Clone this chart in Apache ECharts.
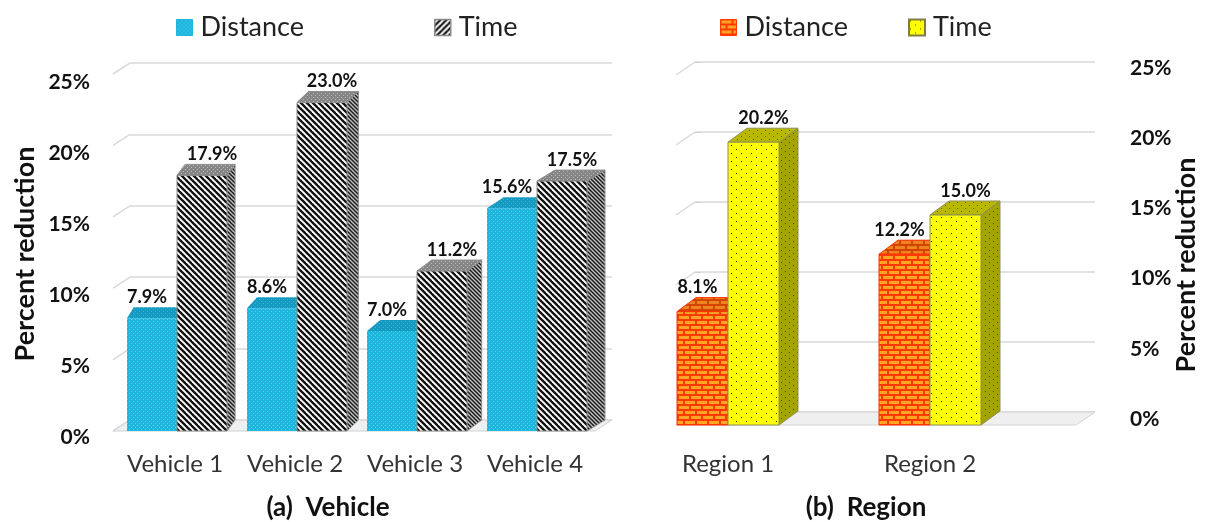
<!DOCTYPE html>
<html>
<head>
<meta charset="utf-8">
<script src="https://cdn.jsdelivr.net/npm/echarts@6/dist/echarts.min.js"></script>
<style>
  html, body { margin: 0; padding: 0; background: #fff; }
  #chart { width: 1208px; height: 522px; }
</style>
</head>
<body>
<div id="chart"></div>
<script>
// ---- data ----
const vehicles = ['Vehicle 1', 'Vehicle 2', 'Vehicle 3', 'Vehicle 4'];
const vehicleDistance = [7.9, 8.6, 7.0, 15.6];
const vehicleTime = [17.9, 23.0, 11.2, 17.5];

const regions = ['Region 1', 'Region 2'];
const regionDistance = [8.1, 12.2];
const regionTime = [20.2, 15.0];

const percentTicks = [0, 5, 10, 15, 20, 25];

// ---- fill patterns ----
function tile(w, h, draw) {
  const c = document.createElement('canvas');
  c.width = w; c.height = h;
  draw(c.getContext('2d'), w, h);
  return { image: c, repeat: 'repeat' };
}
function dotted(w, h, bg, dot, size) {
  return tile(w, h, (g) => {
    g.fillStyle = bg; g.fillRect(0, 0, w, h);
    g.fillStyle = dot;
    g.fillRect(1, 1, size, size);
    g.fillRect(w / 2 + 1, h / 2 + 1, size, size);
  });
}
function stripes(n, lw, bg, fg, down) {
  return tile(n, n, (g) => {
    g.fillStyle = bg; g.fillRect(0, 0, n, n);
    g.strokeStyle = fg; g.lineWidth = lw;
    for (let k = -1; k <= 1; k++) {
      g.beginPath();
      if (down) { g.moveTo(k * n - 1, -1); g.lineTo(k * n + n + 1, n + 1); }
      else { g.moveTo(k * n - 1, n + 1); g.lineTo(k * n + n + 1, -1); }
      g.stroke();
    }
  });
}
function bricks(mortar, brick) {
  return tile(12, 10, (g) => {
    g.fillStyle = mortar; g.fillRect(0, 0, 12, 10);
    g.fillStyle = brick;
    g.fillRect(1, 1, 10, 3);
    g.fillRect(-5, 6, 10, 3);
    g.fillRect(7, 6, 10, 3);
  });
}

const fills = {
  cyanFront: dotted(4, 4, '#1DB6DE', '#5ECDEB', 1),
  cyanTop: dotted(4, 4, '#1499C0', '#3CB5D8', 1),
  stripeFront: stripes(6, 2.3, '#ffffff', '#111111', true),
  stripeSide: stripes(4, 1.5, '#c4c4c4', '#1a1a1a', true),
  stripeTop: dotted(4, 4, '#858585', '#bcbcbc', 1),
  stripeLegend: stripes(6, 2.2, '#ffffff', '#111111', false),
  brickFront: bricks('#FF3A00', '#FFA424'),
  brickTop: bricks('#D24400', '#EE8420'),
  yellowFront: dotted(10, 8, '#FFFF00', '#3a3a00', 1),
  oliveTop: dotted(8, 6, '#B8B800', '#5e5e00', 1),
  oliveSide: dotted(8, 6, '#A4A400', '#4e4e00', 1)
};

// ---- 3D bar drawing ----
function barRenderer(o) {
  return function (params, api) {
    const cat = api.value(0);
    const val = api.value(1);
    const top = api.coord([cat, val]);
    const base = api.coord([cat, 0]);
    const band = api.size([1, 0])[0];
    const w = band * o.widthFrac;
    const x0 = top[0] + o.shift + (o.leftOfCenter ? -w : 0);
    const x1 = x0 + w;
    const dx = o.dx0 + o.dxSlope * (x1 - params.coordSys.x);
    const dy = o.dy;
    const yT = top[1], yB = base[1];
    const edge = o.stroke ? { stroke: o.stroke, lineWidth: 1 } : { lineWidth: 0 };
    return {
      type: 'group',
      children: [
        { type: 'polygon',
          shape: { points: [[x1, yB], [x1, yT], [x1 + dx, yT + dy], [x1 + dx, yB + dy]] },
          style: Object.assign({ fill: o.side }, edge) },
        { type: 'polygon',
          shape: { points: [[x0, yT], [x1, yT], [x1 + dx, yT + dy], [x0 + dx, yT + dy]] },
          style: Object.assign({ fill: o.top }, edge) },
        { type: 'rect',
          shape: { x: x0, y: yT, width: w, height: yB - yT },
          style: Object.assign({ fill: o.front }, edge) },
        { type: 'text',
          style: {
            text: val.toFixed(1) + '%',
            x: x0 + w / 2 + o.labelShift, y: yT + dy - 10,
            align: 'center', verticalAlign: 'middle',
            font: 'bold 18px Lato', fill: '#111'
          } }
      ]
    };
  };
}

// back wall: slanted gridline stubs and the floor
function wallRenderer(ddx, ddy) {
  return function (params, api) {
    const p = api.coord([0, api.value(1)]);
    return { type: 'line',
      shape: { x1: p[0] - ddx, y1: p[1] + ddy, x2: p[0], y2: p[1] },
      style: { stroke: '#D9D9D9', lineWidth: 1.5 } };
  };
}
function floorRenderer(ddx, ddy) {
  return function (params, api) {
    const a = api.coord([0, 0]);
    const b = api.coord([1, 0]);
    return { type: 'polygon',
      shape: { points: [[a[0], a[1]], [b[0], b[1]], [b[0] - ddx, b[1] + ddy], [a[0] - ddx, a[1] + ddy]] },
      style: { fill: '#EFEFEF', stroke: '#D2D2D2', lineWidth: 1 } };
  };
}

const pairData = (vals) => vals.map((v, i) => [i, v]);
const tickData = percentTicks.map((v) => [0, v]);
const tMin = percentTicks[0];
const tMax = percentTicks[percentTicks.length - 1];
const tStep = percentTicks[1] - percentTicks[0];

const font = 'Lato';

const leftBars = { widthFrac: 50 / 120, shift: 2, dx0: 5, dxSlope: 0.0275, dy: -11 };
const rightBars = { widthFrac: 51 / 202, shift: 0, dx0: 19, dxSlope: 0, dy: -14 };

const tickLabel = { formatter: '{value}%', fontFamily: font, fontWeight: 'bold', fontSize: 21, color: '#111' };
const legendText = { fontFamily: font, fontSize: 27, color: '#222', padding: [0, 0, 0, 3] };
const categoryLabel = { fontFamily: font, fontSize: 24, color: '#333', interval: 0, hideOverlap: false };

const option = {
  animation: false,
  backgroundColor: '#ffffff',
  legend: [
    {
      left: 176, top: 14, padding: 0, itemWidth: 16, itemHeight: 16, itemGap: 130,
      selectedMode: false, textStyle: legendText,
      data: [
        { name: 'Distance', icon: 'rect', itemStyle: { color: fills.cyanFront, borderColor: '#1DB6DE', borderWidth: 1 } },
        { name: 'Time', icon: 'rect', itemStyle: { color: fills.stripeLegend, borderColor: '#8a8a8a', borderWidth: 1.5 } }
      ]
    },
    {
      left: 720, top: 14, padding: 0, itemWidth: 16, itemHeight: 16, itemGap: 60,
      selectedMode: false, textStyle: legendText,
      data: [
        { name: 'Distance', icon: 'rect', itemStyle: { color: fills.brickFront, borderColor: '#FF3A00', borderWidth: 1 } },
        { name: 'Time', icon: 'rect', itemStyle: { color: fills.yellowFront, borderColor: '#7d7d45', borderWidth: 2 } }
      ]
    }
  ],
  grid: [
    { left: 115, top: 74, width: 480, height: 357 },   // vehicle bars (front plane)
    { left: 130, top: 63, width: 482, height: 357 },   // vehicle back wall
    { left: 627, top: 75, width: 404, height: 350 },   // region bars (front plane)
    { left: 695, top: 62, width: 400, height: 350 },   // region back wall
    { left: 115, top: 82, width: 480, height: 355 },   // vehicle value labels
    { left: 695, top: 68, width: 400, height: 351 }    // region value labels
  ],
  xAxis: [
    { gridIndex: 0, type: 'category', data: vehicles,
      axisLine: { show: false }, axisTick: { show: false },
      axisLabel: Object.assign({ margin: 21 }, categoryLabel) },
    { gridIndex: 1, type: 'value', min: 0, max: 1, show: false },
    { gridIndex: 2, type: 'category', data: regions,
      axisLine: { show: false }, axisTick: { show: false },
      axisLabel: Object.assign({ margin: 27 }, categoryLabel) },
    { gridIndex: 3, type: 'value', min: 0, max: 1, show: false },
    { gridIndex: 4, type: 'value', min: 0, max: 1, show: false },
    { gridIndex: 5, type: 'value', min: 0, max: 1, show: false }
  ],
  yAxis: [
    { gridIndex: 0, type: 'value', min: tMin, max: tMax, interval: tStep, show: false },
    { gridIndex: 1, type: 'value', min: tMin, max: tMax, interval: tStep,
      axisLine: { show: false }, axisTick: { show: false }, axisLabel: { show: false },
      splitLine: { lineStyle: { color: '#D9D9D9', width: 1.5 } } },
    { gridIndex: 2, type: 'value', min: tMin, max: tMax, interval: tStep, show: false },
    { gridIndex: 3, type: 'value', position: 'right', min: tMin, max: tMax, interval: tStep,
      axisLine: { show: false }, axisLabel: { show: false },
      axisTick: { show: true, length: 6, lineStyle: { color: '#CFCFCF' } },
      splitLine: { lineStyle: { color: '#D9D9D9', width: 1.5 } } },
    { gridIndex: 4, type: 'value', min: tMin, max: tMax, interval: tStep,
      axisLine: { show: false }, axisTick: { show: false }, splitLine: { show: false },
      axisLabel: Object.assign({ margin: 25 }, tickLabel) },
    { gridIndex: 5, type: 'value', position: 'right', min: tMin, max: tMax, interval: tStep,
      axisLine: { show: false }, axisTick: { show: false }, splitLine: { show: false },
      axisLabel: Object.assign({ margin: 35 }, tickLabel) }
  ],
  series: [
    { type: 'custom', name: 'walls-a', xAxisIndex: 1, yAxisIndex: 1, z: 1, silent: true,
      data: tickData, renderItem: wallRenderer(17, 11) },
    { type: 'custom', name: 'floor-a', xAxisIndex: 1, yAxisIndex: 1, z: 1, silent: true,
      data: [[0, 0]], renderItem: floorRenderer(17, 11) },
    { type: 'custom', name: 'walls-b', xAxisIndex: 3, yAxisIndex: 3, z: 1, silent: true,
      data: tickData, renderItem: wallRenderer(19, 13) },
    { type: 'custom', name: 'floor-b', xAxisIndex: 3, yAxisIndex: 3, z: 1, silent: true,
      data: [[0, 0]], renderItem: floorRenderer(19, 13) },

    { type: 'custom', name: 'Distance', xAxisIndex: 0, yAxisIndex: 0, z: 3,
      encode: { x: 0, y: 1 }, data: pairData(vehicleDistance),
      renderItem: barRenderer(Object.assign({}, leftBars, {
        leftOfCenter: true, labelShift: -5,
        front: fills.cyanFront, top: fills.cyanTop, side: '#1487AA' })) },
    { type: 'custom', name: 'Time', xAxisIndex: 0, yAxisIndex: 0, z: 3,
      encode: { x: 0, y: 1 }, data: pairData(vehicleTime),
      renderItem: barRenderer(Object.assign({}, leftBars, {
        leftOfCenter: false, labelShift: 10, stroke: '#8c8c8c',
        front: fills.stripeFront, top: fills.stripeTop, side: fills.stripeSide })) },

    { type: 'custom', name: 'Distance', xAxisIndex: 2, yAxisIndex: 2, z: 3,
      encode: { x: 0, y: 1 }, data: pairData(regionDistance),
      renderItem: barRenderer(Object.assign({}, rightBars, {
        leftOfCenter: true, labelShift: -5, stroke: '#FF3000',
        front: fills.brickFront, top: fills.brickTop, side: fills.brickTop })) },
    { type: 'custom', name: 'Time', xAxisIndex: 2, yAxisIndex: 2, z: 3,
      encode: { x: 0, y: 1 }, data: pairData(regionTime),
      renderItem: barRenderer(Object.assign({}, rightBars, {
        leftOfCenter: false, labelShift: 10, stroke: '#8f8f5a',
        front: fills.yellowFront, top: fills.oliveTop, side: fills.oliveSide })) }
  ],
  graphic: [
    { type: 'text', x: 25, y: 254, rotation: Math.PI / 2,
      style: { text: 'Percent reduction', font: 'bold 27px Lato', fill: '#111', align: 'center', verticalAlign: 'middle' } },
    { type: 'text', x: 1186, y: 265, rotation: Math.PI / 2,
      style: { text: 'Percent reduction', font: 'bold 27px Lato', fill: '#111', align: 'center', verticalAlign: 'middle' } },
    { type: 'text', x: 328, y: 508,
      style: { text: '(a)  Vehicle', font: 'bold 26px Lato', fill: '#111', align: 'center', verticalAlign: 'middle' } },
    { type: 'text', x: 866, y: 508,
      style: { text: '(b)  Region', font: 'bold 26px Lato', fill: '#111', align: 'center', verticalAlign: 'middle' } }
  ]
};

const chart = echarts.init(document.getElementById('chart'), null, { renderer: 'canvas' });
chart.setOption(option);
</script>
</body>
</html>
